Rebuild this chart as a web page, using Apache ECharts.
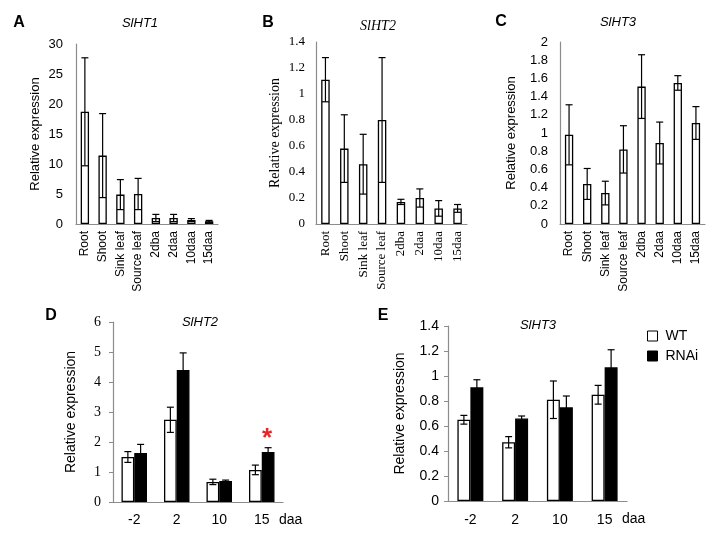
<!DOCTYPE html>
<html><head><meta charset="utf-8">
<script src="https://cdn.jsdelivr.net/npm/echarts@6/dist/echarts.min.js"></script>
<style>html,body{margin:0;padding:0;background:#fff}#c{width:718px;height:535px}</style>
</head><body><div id="c"></div>
<script>
// ---- data ----
const tissueCats = ['Root', 'Shoot', 'Sink leaf', 'Source leaf', '2dba', '2daa', '10daa', '15daa'];
const ht1Mean = [18.7, 11.4, 4.9, 5.0, 1.0, 1.0, 0.65, 0.45];
const ht1Err  = [9.0, 7.0, 2.5, 2.6, 0.6, 0.6, 0.25, 0.15];
const ht2Mean = [1.11, 0.58, 0.46, 0.80, 0.17, 0.20, 0.12, 0.12];
const ht2Err  = [0.17, 0.26, 0.23, 0.48, 0.02, 0.07, 0.06, 0.03];
const ht3Mean = [0.98, 0.44, 0.34, 0.82, 1.51, 0.89, 1.55, 1.11];
const ht3Err  = [0.33, 0.17, 0.13, 0.26, 0.35, 0.23, 0.08, 0.18];
const daaCats = ['-2', '2', '10', '15'];
const dWT     = [1.50, 2.74, 0.67, 1.07];
const dWTErr  = [0.18, 0.42, 0.09, 0.16];
const dRNAi   = [1.63, 4.40, 0.70, 1.67];
const dRNAiErr= [0.29, 0.57, 0.03, 0.14];
const dSig    = ['', '', '', '*'];
const eWT     = [0.65, 0.47, 0.81, 0.85];
const eWTErr  = [0.035, 0.045, 0.15, 0.075];
const eRNAi   = [0.91, 0.66, 0.75, 1.07];
const eRNAiErr= [0.06, 0.02, 0.09, 0.14];

const SANS = 'Liberation Sans, Arial, sans-serif';
const SERIF = 'Liberation Serif, Times New Roman, serif';
const AXIS_GRAY = '#8c8c8c';
const INK = '#000';

function xAx(idx, cats, font, size, rotate, margin, name, nameGap) {
  return {
    type: 'category', gridIndex: idx, data: cats,
    axisLine: { lineStyle: { color: AXIS_GRAY, width: 1.2 } },
    axisTick: { show: false },
    axisLabel: { interval: 0, rotate: rotate, margin: margin, color: INK, fontFamily: font, fontSize: size },
    name: name || '', nameLocation: 'end', nameGap: nameGap || 0,
    nameTextStyle: { color: INK, fontFamily: font, fontSize: size, align: 'left', verticalAlign: 'top', padding: [11, 0, 0, 0] }
  };
}
function yAx(idx, max, interval, font, size, margin, nameFont, nameSize, nameGap, ticks) {
  return {
    type: 'value', gridIndex: idx, min: 0, max: max, interval: interval,
    splitLine: { show: false },
    axisLine: { show: true, lineStyle: { color: AXIS_GRAY, width: 1.2 } },
    axisTick: { show: ticks, length: 4, lineStyle: { color: AXIS_GRAY } },
    axisLabel: { margin: margin, color: INK, fontFamily: font, fontSize: size },
    name: 'Relative expression', nameLocation: 'middle', nameGap: nameGap,
    nameTextStyle: { color: INK, fontFamily: nameFont, fontSize: nameSize }
  };
}
function barS(idx, name, data, width, fill) {
  return {
    type: 'bar', name: name, xAxisIndex: idx, yAxisIndex: idx, data: data,
    barWidth: width, barGap: '0%', silent: true,
    itemStyle: { color: fill, borderColor: '#000', borderWidth: 1.3 }
  };
}
function errS(idx, means, errs, offsetFrac, capHalf, sig) {
  return {
    type: 'custom', xAxisIndex: idx, yAxisIndex: idx, z: 10, silent: true,
    data: means.map((v, i) => [i, v, errs[i]]),
    encode: { x: 0, y: [1] },
    renderItem: function (params, api) {
      const i = api.value(0), v = api.value(1), e = api.value(2);
      const band = api.size([1, 0])[0];
      const top = api.coord([i, v + e]);
      const bot = api.coord([i, v - e]);
      const cx = top[0] + offsetFrac * band;
      const st = { stroke: '#000', lineWidth: 1.2 };
      const ch = [
        { type: 'line', shape: { x1: cx, y1: top[1], x2: cx, y2: bot[1] }, style: st },
        { type: 'line', shape: { x1: cx - capHalf, y1: top[1], x2: cx + capHalf, y2: top[1] }, style: st },
        { type: 'line', shape: { x1: cx - capHalf, y1: bot[1], x2: cx + capHalf, y2: bot[1] }, style: st }
      ];
      if (sig && sig[params.dataIndex]) {
        ch.push({ type: 'text', x: cx - 1, y: top[1] - 9,
          style: { text: sig[params.dataIndex], fill: '#e8262a', fontSize: 26, fontWeight: 'bold',
                   fontFamily: SANS, align: 'center', verticalAlign: 'middle' } });
      }
      return { type: 'group', children: ch };
    }
  };
}
function txt(x, y, s, font, size, weight, style, align) {
  return { type: 'text', x: x, y: y, style: { text: s, fill: INK, fontFamily: font, fontSize: size,
    fontWeight: weight || 'normal', fontStyle: style || 'normal', align: align || 'center', verticalAlign: 'middle' } };
}

const option = {
  animation: false,
  backgroundColor: '#fff',
  grid: [
    { left: 76, top: 44, width: 142, height: 180 },
    { left: 316, top: 42, width: 151, height: 182 },
    { left: 560, top: 42, width: 145, height: 182 },
    { left: 113, top: 322, width: 170, height: 180 },
    { left: 448, top: 326, width: 179, height: 175 }
  ],
  xAxis: [
    xAx(0, tissueCats, SANS, 12, 90, 7),
    xAx(1, tissueCats, SERIF, 13, 90, 7),
    xAx(2, tissueCats, SANS, 12, 90, 7),
    xAx(3, daaCats, SANS, 14, 0, 11, 'daa', -4),
    xAx(4, daaCats, SANS, 14, 0, 12, 'daa', -5)
  ],
  yAxis: [
    yAx(0, 30, 5, SANS, 13, 13, SANS, 13, 34, false),
    yAx(1, 1.4, 0.2, SERIF, 13, 11, SERIF, 14, 34, false),
    yAx(2, 2, 0.2, SANS, 13, 12, SANS, 13, 42, false),
    yAx(3, 6, 1, SERIF, 14, 12, SANS, 14, 35, true),
    yAx(4, 1.4, 0.2, SANS, 14, 9, SANS, 14, 41, true)
  ],
  legend: {
    orient: 'vertical', left: 642, top: 324, itemWidth: 10, itemHeight: 10, itemGap: 6,
    icon: 'rect', selectedMode: false,
    textStyle: { color: INK, fontFamily: SANS, fontSize: 14, padding: [0, 0, 0, 3] },
    data: [
      { name: 'WT', itemStyle: { color: '#fff', borderColor: '#000', borderWidth: 1 } },
      { name: 'RNAi', itemStyle: { color: '#000', borderColor: '#000', borderWidth: 1 } }
    ]
  },
  series: [
    barS(0, 'SlHT1', ht1Mean, '47%', '#fff'), errS(0, ht1Mean, ht1Err, 0, 3.5),
    barS(1, 'SlHT2', ht2Mean, '45%', '#fff'), errS(1, ht2Mean, ht2Err, 0, 3.5),
    barS(2, 'SlHT3', ht3Mean, '46%', '#fff'), errS(2, ht3Mean, ht3Err, 0, 3.5),
    barS(3, 'WT', dWT, '30%', '#fff'), barS(3, 'RNAi', dRNAi, '30%', '#000'),
    errS(3, dWT, dWTErr, -0.15, 3.5), errS(3, dRNAi, dRNAiErr, 0.15, 3.5, dSig),
    barS(4, 'WT', eWT, '29%', '#fff'), barS(4, 'RNAi', eRNAi, '29%', '#000'),
    errS(4, eWT, eWTErr, -0.145, 3.5), errS(4, eRNAi, eRNAiErr, 0.145, 3.5)
  ],
  graphic: [
    txt(19, 23, 'A', SANS, 16, 'bold'),
    txt(268, 23, 'B', SANS, 16, 'bold'),
    txt(501, 22, 'C', SANS, 16, 'bold'),
    txt(51, 316, 'D', SANS, 16, 'bold'),
    txt(383, 316, 'E', SANS, 16, 'bold'),
    txt(140, 23, 'SlHT1', SANS, 13, 'normal', 'italic'),
    txt(378, 26, 'SlHT2', SERIF, 14, 'normal', 'italic'),
    txt(618, 22, 'SlHT3', SANS, 13, 'normal', 'italic'),
    txt(200, 322, 'SlHT2', SANS, 13, 'normal', 'italic'),
    txt(538, 325, 'SlHT3', SANS, 13, 'normal', 'italic')
  ]
};
echarts.init(document.getElementById('c'), null, { renderer: 'canvas' }).setOption(option);
</script>
</body></html>
